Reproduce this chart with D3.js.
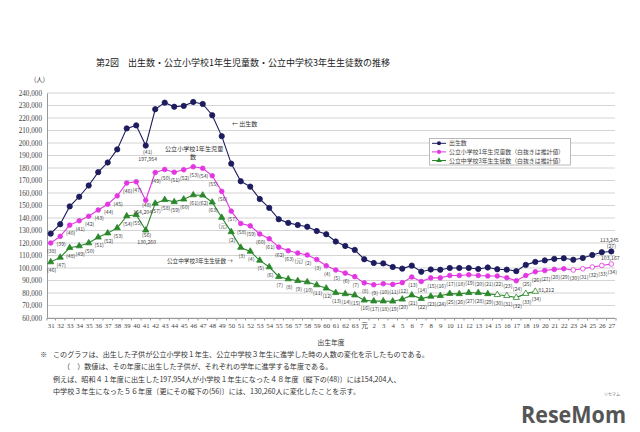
<!DOCTYPE html>
<html><head><meta charset="utf-8">
<script src="https://cdn.jsdelivr.net/npm/d3@7"></script>
<style>
body{margin:0;background:#fff}
svg{display:block}
text{font-family:"Noto Sans CJK JP","Noto Sans",sans-serif;fill:#333}
</style>
</head><body><svg id="c" width="640" height="432"></svg>
<script>
const categories = ["31","32","33","34","35","36","37","38","39","40","41","42","43","44","45","46","47","48","49","50","51","52","53","54","55","56","57","58","59","60","61","62","63","元","2","3","4","5","6","7","8","9","10","11","12","13","14","15","16","17","18","19","20","21","22","23","24","25","26","27"];
const births = [127500,135000,149300,157000,166000,176700,184400,194900,211700,214100,197954,227000,232300,229000,229700,232800,231200,222200,205500,183500,169400,165100,155200,148100,139000,136100,134400,133000,129600,127000,121200,117600,114500,107000,104000,103700,100800,99500,101900,97000,98800,98600,100000,100000,100000,99200,100400,99000,98700,97500,102500,104900,106100,107300,107800,106600,108000,110400,112600,113245];
const elementary = [120000,125300,134300,137800,141400,146400,151000,157700,168000,169000,154204,176400,178800,176600,178600,181000,179800,173800,161300,145500,135600,133700,127200,123400,116700,113800,112000,110400,106800,101800,98400,95900,93100,88100,86600,87400,86900,88300,92800,89200,92100,92100,94000,94000,94600,94000,93600,93600,92200,89800,94000,97000,98000,98900,99400,98400,99400,100800,102000,103167];
const juniorHigh = [104800,108500,116200,117600,120000,124600,127900,132000,141600,142600,130260,151700,154600,152900,155000,158400,158200,152600,140400,128900,116400,113300,106100,100800,93000,91200,89800,88800,86400,83800,80200,79300,78300,74200,73500,73500,73400,75000,78300,75500,77300,77800,79500,79300,80200,80200,79300,78600,77800,76300,79500,81212];
const elementaryYears = ["38","39","40","41","42","43","44","45","46","47","48","49","50","51","52","53","54","55","56","57","58","59","60","61","62","63","元","2","3","4","5","6","7","8","9","10","11","12","13","14","15","16","17","18","19","20","21","22","23","24","25","26","27","28","29","30","31","32","33","34"];
const juniorHighYears = ["46","47","48","49","50","51","52","53","54","55","56","57","58","59","60","61","62","63","元","2","3","4","5","6","7","8","9","10","11","12","13","14","15","16","17","18","19","20","21","22","23","24","25","26","27","28","29","30","31","32","33","34"];
const elementaryEstimatedFrom = 55;
const juniorHighEstimatedFrom = 47;
const yTicks = [60000,70000,80000,90000,100000,110000,120000,130000,140000,150000,160000,170000,180000,190000,200000,210000,220000,230000,240000];
const seriesNames = ["出生数","公立小学校1年生児童数（白抜きは推計値）","公立中学校3年生生徒数（白抜きは推計値）"];
const colors = ["#1c1c5e","#e236e2","#2a872a"];

const svg = d3.select("#c");
const L = 47, R = 615, T = 93, B = 318;
const x = d3.scalePoint().domain(d3.range(categories.length)).range([L, R]).padding(0.39);
const y = d3.scaleLinear().domain([60000,240000]).range([B, T]);
const fmt = d3.format(",");

// title
svg.append("text").attr("x",96).attr("y",65.5).attr("font-size",9).style("fill","#222")
  .text("第2図　出生数・公立小学校1年生児童数・公立中学校3年生生徒数の推移");
svg.append("text").attr("x",34).attr("y",82).attr("font-size",6.5).text("(人)");

// grid
svg.append("g").selectAll("line").data(yTicks).join("line")
  .attr("x1",L).attr("x2",R).attr("y1",d=>y(d)).attr("y2",d=>y(d))
  .attr("stroke","#d4d4d4").attr("stroke-width",1);
// y axis
const ya = svg.append("g").attr("transform",`translate(${L},0)`)
  .call(d3.axisLeft(y).tickValues(yTicks).tickFormat(fmt).tickSize(0).tickPadding(5));
ya.select(".domain").attr("stroke","#999");
ya.selectAll("text").attr("font-size",7.2).style("fill","#444").style("font-family","'Liberation Serif',serif");
// x axis
const step = x.step();
const xa = svg.append("g").attr("transform",`translate(0,${B})`)
  .call(d3.axisBottom(x).tickFormat(i=>categories[i]).tickSize(0).tickPadding(5));
xa.select(".domain").attr("stroke","#999");
xa.selectAll("text").attr("font-size",6.8).style("fill","#444").style("font-family","'Liberation Serif','Noto Sans CJK JP',serif");
svg.append("g").selectAll("line").data(d3.range(categories.length+1)).join("line")
  .attr("x1",i=> i===0 ? L : x(i-1)+step/2).attr("x2",i=> i===0 ? L : x(i-1)+step/2)
  .attr("y1",B).attr("y2",B+2.5).attr("stroke","#999");
svg.append("text").attr("x",331).attr("y",344.5).attr("text-anchor","middle").attr("font-size",6.8).text("出生年度");

// series
function drawSeries(vals, color, shape, estFrom){
  const pts = vals.map((v,i)=>[x(i), y(v), i]);
  svg.append("path").datum(pts).attr("fill","none").attr("stroke",color).attr("stroke-width",1.1)
    .attr("d", d3.line().x(d=>d[0]).y(d=>d[1]));
  const sym = d3.symbol().type(shape==="tri"?d3.symbolTriangle:d3.symbolCircle).size(shape==="tri"?17:shape==="dot"?22:17);
  svg.append("g").selectAll("path").data(pts).join("path")
    .attr("transform",d=>`translate(${d[0]},${d[1]})`).attr("d",sym)
    .attr("fill",d=> (estFrom!=null && d[2]>=estFrom) ? "#fff" : color)
    .attr("stroke",color).attr("stroke-width",0.8);
  return pts;
}
drawSeries(births, colors[0], "dot", null);
const ep = drawSeries(elementary, colors[1], "dia", elementaryEstimatedFrom);
const jp = drawSeries(juniorHigh, colors[2], "tri", juniorHighEstimatedFrom);

function yearLabels(pts, labels){
  svg.append("g").selectAll("text").data(pts).join("text")
    .attr("x",d=>d[0]+1).attr("y",d=>d[1]+ (d[2]===10 ? 7 : 10)).attr("text-anchor","middle")
    .attr("font-size",5.2).style("fill","#444").text(d=>"("+labels[d[2]]+")");
}
yearLabels(ep, elementaryYears);
yearLabels(jp, juniorHighYears);

const small = (t,xx,yy,anchor="middle",fs=5.2)=>svg.append("text").attr("x",xx).attr("y",yy)
  .attr("text-anchor",anchor).attr("font-size",fs).style("fill","#444").text(t);
// value callouts
small("(41)", x(10)+2, y(births[10])+8);
small(fmt(births[10]), x(10)+2, y(births[10])+15.5);
small(fmt(elementary[10]), x(10)-3, y(elementary[10])+13.5);
small(fmt(juniorHigh[10]), x(10)+1, y(juniorHigh[10])+13.5);
small(fmt(births[59]), x(59)-2, y(births[59])-9);
small("(27)", x(59), y(births[59])-3);
small(fmt(elementary[59]), x(59)-1, y(elementary[59])-4);
small(fmt(juniorHigh[51]), x(51)+3, y(juniorHigh[51])+1, "start");

// series annotations
const ann = (t,xx,v,anchor="start",fs=6.1)=>svg.append("text").attr("x",xx).attr("y",y(v)+2.1).attr("text-anchor",anchor)
  .attr("font-size",fs).style("fill","#333").text(t);
ann("← 出生数", 232, 215000, "start", 6);
ann("公立小学校1年生児童", 165, 195000);
ann("数", 193, 189000, "middle");
ann("公立中学校3年生生徒数 →", 167, 105700, "start", 5.6);

// legend
const lg = svg.append("g");
const lgTop = y(203600), lgBot = y(182400);
lg.append("rect").attr("x",429.5).attr("y",lgTop).attr("width",141).attr("height",lgBot-lgTop).attr("fill","#fff").attr("stroke","#aaa").attr("stroke-width",0.8);
const shapes = [d3.symbolCircle, d3.symbolCircle, d3.symbolTriangle];
seriesNames.forEach((n,i)=>{
  const yy = lgTop + 4.8 + i*8.6;
  lg.append("line").attr("x1",432).attr("x2",446).attr("y1",yy).attr("y2",yy).attr("stroke",colors[i]).attr("stroke-width",1);
  lg.append("path").attr("transform",`translate(439,${yy})`).attr("d",d3.symbol().type(shapes[i]).size(13)).attr("fill",colors[i]);
  lg.append("text").attr("x",449).attr("y",yy+2.1).attr("font-size",5.9).style("fill","#444").text(n);
});

// footnote
svg.append("text").attr("x",40).attr("y",356.5).attr("font-size",7.1).style("fill","#333").text("※");
const notes = [
  [53,356.5,"このグラフは、出生した子供が公立小学校１年生、公立中学校３年生に進学した時の人数の変化を示したものである。"],
  [63,369,"（　）数値は、その年度に出生した子供が、それぞれの学年に進学する年度である。"],
  [53,381.5,"例えば、昭和４１年度に出生した197,954人が小学校１年生になった４８年度〔縦下の(48)〕には154,204人、"],
  [53,394,"中学校３年生になった５６年度〔更にその縦下の(56)〕には、130,260人に変化したことを示す。"]
];
notes.forEach(n=>svg.append("text").attr("x",n[0]).attr("y",n[1]).attr("font-size",7.1).style("fill","#333").text(n[2]));

// logo
svg.append("text").attr("x",521).attr("y",423).attr("font-size",23).attr("font-weight","bold")
  .attr("textLength",105).attr("lengthAdjust","spacingAndGlyphs")
  .style("fill","#555").style("font-family","'Open Sans','Liberation Sans',sans-serif").text("ReseMom");
svg.append("text").attr("x",620).attr("y",396).attr("text-anchor","end").attr("font-size",4).style("fill","#777").text("リセマム");
</script></body></html>
